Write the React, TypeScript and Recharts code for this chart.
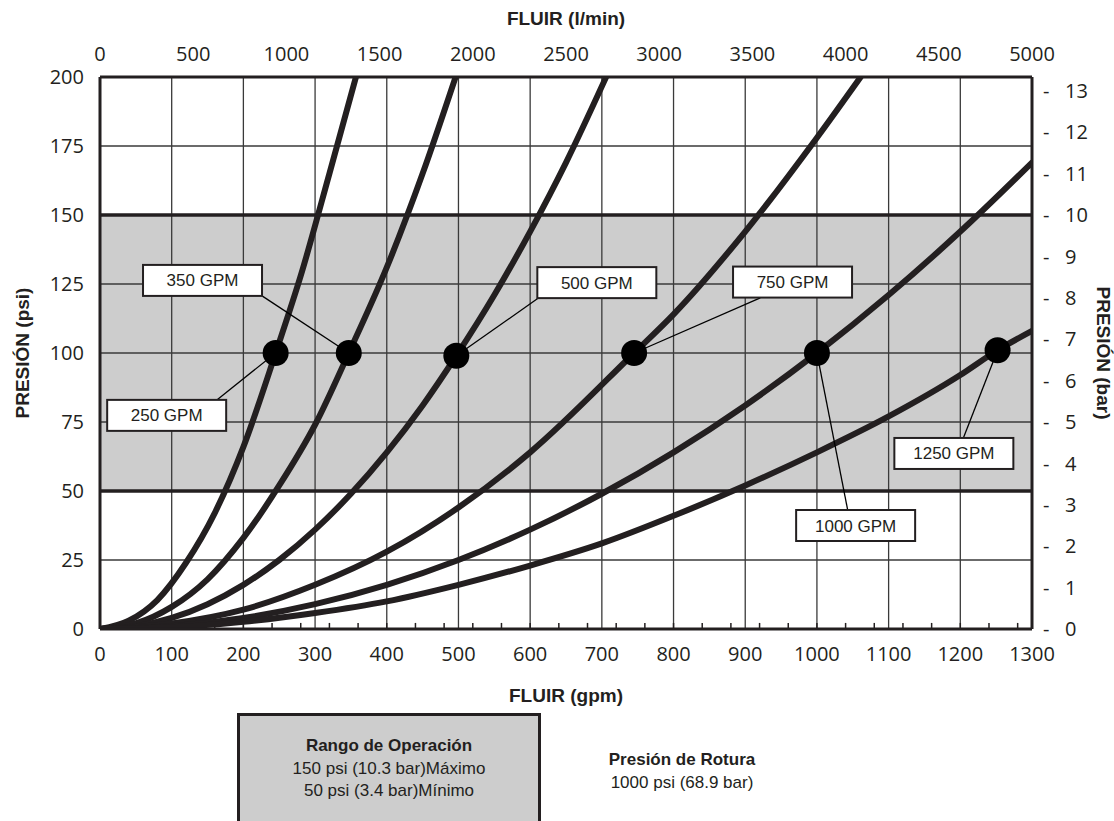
import React from 'react';
import {
  ComposedChart, Line, Scatter, XAxis, YAxis, CartesianGrid,
  ReferenceLine, ReferenceDot,
} from 'recharts';

// axis ticks
const gpmTicks = [0, 100, 200, 300, 400, 500, 600, 700, 800, 900, 1000, 1100, 1200, 1300];
const minorTicks = [40, 80, 120, 160, 200, 240, 280, 320, 360, 400, 440, 480, 520, 560, 600, 640, 680, 720, 760, 800, 840, 880, 920, 960, 1000, 1040, 1080, 1120, 1160, 1200, 1240, 1280];
const minorTickLen = 2.2; // psi
const lpmTicks = [0, 500, 1000, 1500, 2000, 2500, 3000, 3500, 4000, 4500, 5000];
const psiTicks = [0, 25, 50, 75, 100, 125, 150, 175, 200];
const barTicks = [0, 1, 2, 3, 4, 5, 6, 7, 8, 9, 10, 11, 12, 13];

// pump curves (gpm -> psi)
const gpm250 = [0, 40, 80, 120, 160, 200, 245, 280, 320, 357];
const psi250 = [0, 3, 10.5, 24, 42, 66, 100, 128, 165, 200];
const gpm350 = [0, 50, 100, 150, 200, 250, 300, 347, 400, 450, 496];
const psi350 = [0, 2, 8, 18, 33, 52, 74, 100, 131, 165, 200];
const gpm500 = [0, 50, 100, 150, 200, 250, 300, 350, 400, 450, 497, 550, 600, 650, 706];
const psi500 = [0, 1, 4, 9, 16, 25, 36, 49, 64, 81, 99, 121, 144, 169, 200];
const gpm750 = [0, 100, 200, 300, 400, 500, 600, 745, 800, 900, 1000, 1061];
const psi750 = [0, 2, 7, 16, 28, 44, 64, 100, 114, 144, 178, 200];
const gpm1000 = [0, 100, 200, 300, 400, 500, 600, 700, 800, 900, 1000, 1100, 1200, 1300];
const psi1000 = [0, 1, 4, 9, 16, 25, 36, 49, 64, 81, 100, 121, 144, 169];
const gpm1250 = [0, 100, 200, 300, 400, 500, 600, 700, 800, 900, 1000, 1100, 1200, 1252, 1300];
const psi1250 = [0, 0.6, 2.6, 5.8, 10, 16, 23, 31, 41, 52, 64, 77, 92, 101, 108];

// rated points
const ratedGpm = [245, 347, 497, 745, 1000, 1252];
const ratedPsi = [100, 100, 99, 100, 100, 101];

// callouts
const calloutText = ['250 GPM', '350 GPM', '500 GPM', '750 GPM', '1000 GPM', '1250 GPM'];
const calloutGpm = [93, 143, 693, 966, 1054, 1191];
const calloutPsi = [77.4, 126.3, 125.5, 125.7, 37.5, 63.6];
const leaderGpm = [163, 226, 612, 921, 1043, 1204];
const leaderPsi = [83, 120.7, 120, 120, 43, 69];

const zip = (xs: number[], ys: number[]) => xs.map((x, i) => ({ gpm: x, psi: ys[i] }));

const curves = [
  zip(gpm250, psi250),
  zip(gpm350, psi350),
  zip(gpm500, psi500),
  zip(gpm750, psi750),
  zip(gpm1000, psi1000),
  zip(gpm1250, psi1250),
];
const rated = zip(ratedGpm, ratedPsi);

// invisible helper so the l/min and bar axes get drawn
const lpmRows = lpmTicks.map((lpm) => ({ lpm, bar: 0 }));

const INK = '#231f20';
const tickFont = { fontFamily: 'Open Sans', fontSize: 20, fill: INK };
const titleStyle = { fontFamily: 'Liberation Sans, Arial', fontSize: 19, fontWeight: 700, fill: INK };
const noteFont = 'Liberation Sans, Arial, sans-serif';

const CalloutBox = (props: any) => {
  const { cx, cy, text } = props;
  return (
    <g>
      <rect x={cx - 59.5} y={cy - 15.5} width={119} height={31} fill="#fff" stroke={INK} strokeWidth={2} />
      <text x={cx} y={cy + 6} textAnchor="middle" fontFamily={noteFont} fontSize={17} fill={INK}>
        {text}
      </text>
    </g>
  );
};

const RatedDot = (props: any) => <circle cx={props.cx} cy={props.cy} r={13} fill="#000" />;

export default function App() {
  return (
    <div style={{ position: 'fixed', left: 0, top: 0, width: 1114, height: 821, overflow: 'hidden', background: '#fff' }}>
      <ComposedChart width={1114} height={719} margin={{ top: 0, right: 0, bottom: 0, left: 0 }}>
        <CartesianGrid
          stroke="#3a3a3a"
          strokeWidth={1.3}
          horizontalFill={['#ffffff', '#ffffff', '#cdcdcd', '#cdcdcd', '#cdcdcd', '#cdcdcd', '#ffffff', '#ffffff']}
          fillOpacity={1}
        />
        <XAxis
          dataKey="gpm"
          type="number"
          domain={[0, 1300]}
          ticks={gpmTicks}
          allowDataOverflow
          height={90}
          tickLine={false}
          tickSize={0}
          tickMargin={18}
          axisLine={{ stroke: INK, strokeWidth: 3 }}
          tick={tickFont}
          label={{ value: 'FLUIR (gpm)', position: 'insideTop', offset: 60, style: titleStyle }}
        />
        <XAxis
          xAxisId="top"
          dataKey="lpm"
          type="number"
          orientation="top"
          domain={[0, 5000]}
          ticks={lpmTicks}
          height={77}
          tickLine={false}
          tickSize={0}
          tickMargin={16}
          axisLine={{ stroke: INK, strokeWidth: 3 }}
          tick={tickFont}
          label={{ value: 'FLUIR (l/min)', position: 'insideTop', offset: 12, style: titleStyle }}
        />
        <YAxis
          type="number"
          domain={[0, 200]}
          ticks={psiTicks}
          allowDataOverflow
          width={100}
          tickLine={false}
          tickSize={0}
          tickMargin={16}
          axisLine={{ stroke: INK, strokeWidth: 3 }}
          tick={tickFont}
          label={{ value: 'PRESIÓN (psi)', angle: -90, position: 'insideLeft', offset: 22, style: { ...titleStyle, textAnchor: 'middle' } }}
        />
        <YAxis
          yAxisId="bar"
          orientation="right"
          type="number"
          domain={[0, 200 / 15]}
          ticks={barTicks}
          width={82}
          tickLine={false}
          tickSize={0}
          tickMargin={11}
          axisLine={{ stroke: INK, strokeWidth: 3 }}
          tick={tickFont}
          tickFormatter={(v: number) => `-\u00A0\u00A0\u00A0${v}`}
          label={{ value: 'PRESIÓN (bar)', angle: 90, position: 'insideRight', offset: 10, style: { ...titleStyle, textAnchor: 'middle' } }}
        />

        <ReferenceLine y={150} stroke={INK} strokeWidth={3.5} />
        <ReferenceLine y={50} stroke={INK} strokeWidth={3.5} />

        {minorTicks.map((g) => (
          <ReferenceLine
            key={`minor-${g}`}
            segment={[{ x: g, y: 0 }, { x: g, y: minorTickLen }]}
            stroke={INK}
            strokeWidth={1.5}
          />
        ))}

        <Line
          xAxisId="top"
          yAxisId="bar"
          data={lpmRows}
          dataKey="bar"
          stroke="none"
          dot={false}
          activeDot={false}
          legendType="none"
          isAnimationActive={false}
        />

        {curves.map((c, i) => (
          <Line
            key={`curve-${i}`}
            data={c}
            dataKey="psi"
            type="monotone"
            stroke={INK}
            strokeWidth={6}
            strokeLinecap="round"
            dot={false}
            activeDot={false}
            isAnimationActive={false}
          />
        ))}

        {calloutText.map((t, i) => (
          <ReferenceLine
            key={`leader-${i}`}
            segment={[{ x: leaderGpm[i], y: leaderPsi[i] }, { x: ratedGpm[i], y: ratedPsi[i] }]}
            stroke="#000"
            strokeWidth={1.3}
          />
        ))}

        <Scatter data={rated} dataKey="psi" shape={RatedDot} isAnimationActive={false} />

        {calloutText.map((t, i) => (
          <ReferenceDot
            key={`box-${i}`}
            x={calloutGpm[i]}
            y={calloutPsi[i]}
            shape={(p: any) => <CalloutBox {...p} text={t} />}
          />
        ))}
      </ComposedChart>

      <div style={{ position: 'absolute', left: 237, top: 713, width: 304, height: 130, boxSizing: 'border-box', background: '#cdcdcd', border: `3px solid ${INK}` }} />
      <div style={{ position: 'absolute', left: 237, width: 304, top: 736, textAlign: 'center', fontFamily: noteFont, fontSize: 17, fontWeight: 700, lineHeight: '20px', color: INK }}>
        Rango de Operación
      </div>
      <div style={{ position: 'absolute', left: 237, width: 304, top: 759, textAlign: 'center', fontFamily: noteFont, fontSize: 17, lineHeight: '20px', color: INK }}>
        150 psi (10.3 bar)Máximo
      </div>
      <div style={{ position: 'absolute', left: 237, width: 304, top: 781, textAlign: 'center', fontFamily: noteFont, fontSize: 17, lineHeight: '20px', color: INK }}>
        50 psi (3.4 bar)Mínimo
      </div>
      <div style={{ position: 'absolute', left: 562, width: 240, top: 750, textAlign: 'center', fontFamily: noteFont, fontSize: 17, fontWeight: 700, lineHeight: '20px', color: INK }}>
        Presión de Rotura
      </div>
      <div style={{ position: 'absolute', left: 562, width: 240, top: 773, textAlign: 'center', fontFamily: noteFont, fontSize: 17, lineHeight: '20px', color: INK }}>
        1000 psi (68.9 bar)
      </div>
    </div>
  );
}
